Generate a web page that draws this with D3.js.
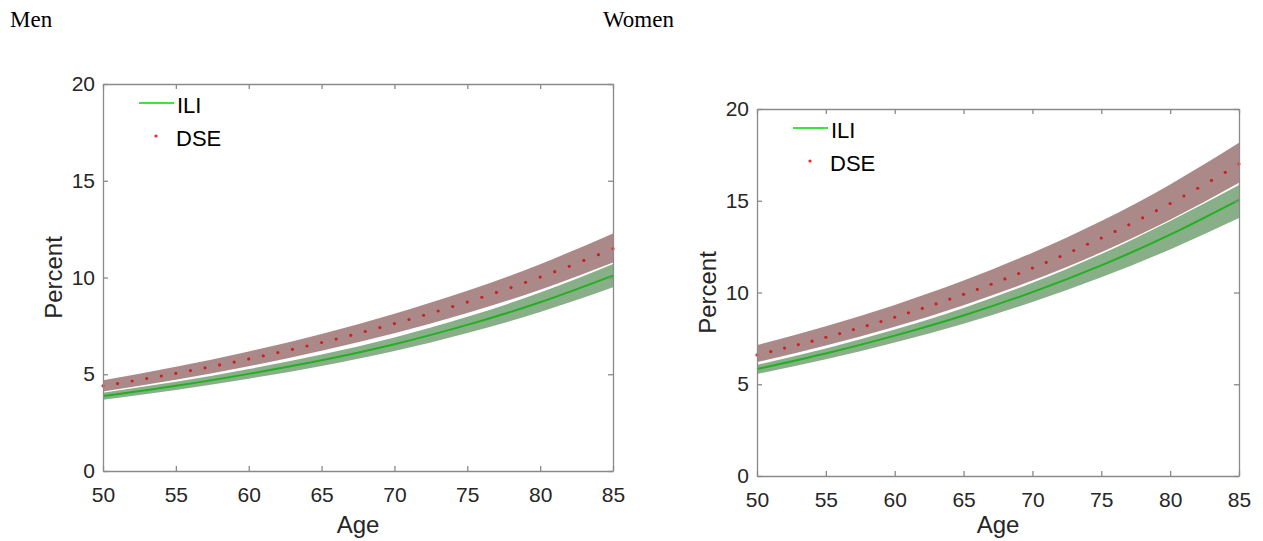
<!DOCTYPE html>
<html>
<head>
<meta charset="utf-8">
<script src="https://cdn.jsdelivr.net/npm/d3@7"></script>
<style>
  body { margin: 0; background: #fff; }
  .title { font-family: "Liberation Serif", "Times New Roman", serif; font-size: 23px; fill: #000; }
  .tick text { font-family: "Liberation Sans", Arial, sans-serif; font-size: 21px; fill: #262626; }
  .lab { font-family: "Liberation Sans", Arial, sans-serif; font-size: 24px; fill: #262626; }
  .leg { font-family: "Liberation Sans", Arial, sans-serif; font-size: 22px; fill: #000; }
</style>
</head>
<body>
<div id="master"></div>
<script>
// x categories
let ages5 = [50, 55, 60, 65, 70, 75, 80, 85]
let agesYear = d3.range(50, 86)
let yTicks = [0, 5, 10, 15, 20]
let xTicks = [50, 55, 60, 65, 70, 75, 80, 85]

// Men
let menILI = [3.87, 4.40, 5.02, 5.72, 6.55, 7.55, 8.72, 10.10]
let menILILo = [3.68, 4.19, 4.77, 5.43, 6.20, 7.13, 8.22, 9.50]
let menILIHi = [4.05, 4.61, 5.27, 6.02, 6.90, 7.97, 9.22, 10.70]
let menDSE = [4.40, 4.52, 4.65, 4.78, 4.91, 5.05, 5.19, 5.33, 5.48, 5.63, 5.79, 5.95, 6.12, 6.29, 6.46, 6.64, 6.82, 7.01,
  7.21, 7.41, 7.62, 7.83, 8.05, 8.27, 8.50, 8.73, 8.98, 9.23, 9.48, 9.75, 10.02, 10.30, 10.58, 10.88, 11.18, 11.49]
let menDSELo = [4.11, 4.72, 5.41, 6.21, 7.12, 8.16, 9.37, 10.78]
let menDSEHi = [4.69, 5.39, 6.18, 7.08, 8.13, 9.31, 10.69, 12.28]

// Women
let womenILI = [5.83, 6.68, 7.65, 8.75, 10.02, 11.48, 13.15, 15.05]
let womenILILo = [5.56, 6.36, 7.27, 8.30, 9.48, 10.83, 12.35, 14.06]
let womenILIHi = [6.05, 6.95, 7.98, 9.16, 10.53, 12.10, 13.90, 15.86]
let womenDSE = [6.60, 6.78, 6.97, 7.16, 7.35, 7.56, 7.76, 7.98, 8.19, 8.42, 8.65, 8.89, 9.13, 9.38, 9.64, 9.90, 10.17, 10.45,
  10.74, 11.03, 11.33, 11.64, 11.96, 12.29, 12.63, 12.97, 13.33, 13.69, 14.07, 14.46, 14.85, 15.26, 15.68, 16.11, 16.55, 17.00]
let womenDSELo = [6.20, 7.11, 8.13, 9.31, 10.65, 12.19, 13.96, 15.98]
let womenDSEHi = [7.14, 8.16, 9.32, 10.65, 12.17, 13.90, 15.89, 18.16]

let svg = d3.select("#master").append("svg").attr("width", 1263).attr("height", 541)

svg.append("text").attr("class", "title").attr("x", 10).attr("y", 27).text("Men")
svg.append("text").attr("class", "title").attr("x", 603).attr("y", 27).text("Women")

let drawPanel = (p) => {
  let x = d3.scaleLinear().domain([50, 85]).range([p.left, p.right])
  let y = d3.scaleLinear().domain([0, 20]).range([p.bottom, p.top])
  let g = svg.append("g")

  // bands
  let band = (lo, hi) => d3.area().curve(d3.curveNatural)
    .x((d, i) => x(ages5[i])).y0((d, i) => y(lo[i])).y1((d, i) => y(hi[i]))(lo)
  g.append("path").attr("d", band(p.dseLo, p.dseHi)).attr("fill", "rgb(112,52,52)").attr("fill-opacity", 0.58)
  g.append("path").attr("d", band(p.iliLo, p.iliHi)).attr("fill", "rgb(40,110,40)").attr("fill-opacity", 0.55)

  // ILI line
  g.append("path")
    .attr("d", d3.line().curve(d3.curveNatural).x((d, i) => x(ages5[i])).y(d => y(d))(p.ili))
    .attr("fill", "none").attr("stroke", "#22b022").attr("stroke-width", 2)

  // DSE dots
  g.selectAll(".dse").data(p.dse).enter().append("circle")
    .attr("cx", (d, i) => x(agesYear[i])).attr("cy", d => y(d)).attr("r", 1.6)
    .attr("fill", (d, i) => i == 0 || i == p.dse.length - 1 ? "#ff2020" : "#cc1f1f")

  // axes with inward ticks, box on
  let axStyle = sel => {
    sel.select(".domain").attr("stroke", "#8a8a8a").attr("stroke-width", 1.3)
    sel.selectAll(".tick line").attr("stroke", "#8a8a8a").attr("stroke-width", 1.3)
  }
  g.append("g").attr("transform", `translate(0,${p.bottom})`)
    .call(d3.axisBottom(x).tickValues(xTicks).tickSizeInner(-5).tickSizeOuter(0).tickPadding(16))
    .call(axStyle)
  g.append("g").attr("transform", `translate(0,${p.top})`)
    .call(d3.axisTop(x).tickValues(xTicks).tickSizeInner(-5).tickSizeOuter(0).tickFormat(""))
    .call(axStyle)
  g.append("g").attr("transform", `translate(${p.left},0)`)
    .call(d3.axisLeft(y).tickValues(yTicks).tickSizeInner(-5).tickSizeOuter(0).tickPadding(8))
    .call(axStyle)
  g.append("g").attr("transform", `translate(${p.right},0)`)
    .call(d3.axisRight(y).tickValues(yTicks).tickSizeInner(-5).tickSizeOuter(0).tickFormat(""))
    .call(axStyle)
  g.selectAll(".tick text").attr("fill", "#262626")

  // labels
  g.append("text").attr("class", "lab").attr("text-anchor", "middle")
    .attr("x", (p.left + p.right) / 2).attr("y", 533).text("Age")
  g.append("text").attr("class", "lab").attr("text-anchor", "middle")
    .attr("transform", `translate(${p.left - 41},${(p.top + p.bottom) / 2}) rotate(-90)`).text("Percent")

  // legend
  let lx = p.left + 36, ly = p.top + 19
  g.append("line").attr("x1", lx).attr("x2", lx + 35).attr("y1", ly).attr("y2", ly)
    .attr("stroke", "#3ee43e").attr("stroke-width", 2)
  g.append("text").attr("class", "leg").attr("x", lx + 38).attr("y", ly + 9.5).text("ILI")
  g.append("circle").attr("cx", lx + 17).attr("cy", ly + 33).attr("r", 1.6).attr("fill", "#ff2020")
  g.append("text").attr("class", "leg").attr("x", lx + 37).attr("y", ly + 42.5).text("DSE")
}

drawPanel({left: 103, right: 613, top: 84, bottom: 471,
  ili: menILI, iliLo: menILILo, iliHi: menILIHi, dse: menDSE, dseLo: menDSELo, dseHi: menDSEHi})
drawPanel({left: 757, right: 1239, top: 109, bottom: 476,
  ili: womenILI, iliLo: womenILILo, iliHi: womenILIHi, dse: womenDSE, dseLo: womenDSELo, dseHi: womenDSEHi})
</script>
</body>
</html>
